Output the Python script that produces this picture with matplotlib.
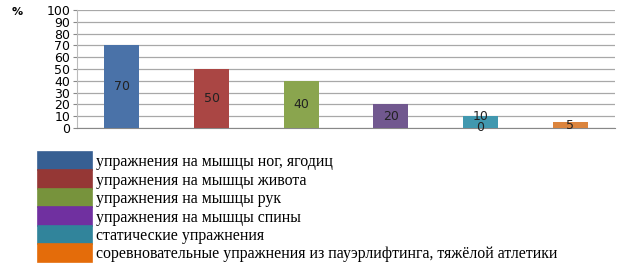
import matplotlib.pyplot as plt
from matplotlib.patches import Patch

categories = ['упражнения на мышцы ног, ягодиц',
              'упражнения на мышцы живота',
              'упражнения на мышцы рук',
              'упражнения на мышцы спины',
              'статические упражнения',
              'соревновательные упражнения из пауэрлифтинга, тяжёлой атлетики']
values = [70, 50, 40, 20, 10, 5]
bar_labels = ['70', '50', '40', '20', '10\n0', '5']
bar_colors = ['#4A72A8', '#AA4644', '#8AA54E', '#71588F', '#4198AF', '#DB843D']
legend_colors = ['#375F92', '#953735', '#77933C', '#7030A0', '#31849B', '#E46C0A']
yticks = list(range(0, 101, 10))

fig = plt.figure(figsize=(6.24, 2.70), dpi=100)
ax = fig.add_axes([0.1234, 0.526, 0.8622, 0.437])

x = list(range(len(values)))
bars = ax.bar(x, values, width=0.39, color=bar_colors, zorder=3)
for b, lab in zip(bars, bar_labels):
    ax.text(b.get_x() + b.get_width() / 2, b.get_height() / 2, lab,
            ha='center', va='center', fontsize=9, color='#222222',
            linespacing=0.8, zorder=4)

ax.set_xlim(-0.5, len(values) - 0.5)
ax.set_ylim(0, 100)
ax.set_yticks(yticks)
ax.set_xticks([])
ax.grid(axis='y', color='#A8A8A8', linewidth=0.9, zorder=0)
for s in ['top', 'right']:
    ax.spines[s].set_visible(False)
ax.spines['left'].set_color('#BBBBBB')
ax.spines['bottom'].set_color('#888888')
ax.tick_params(axis='y', length=3, color='#888888', labelsize=9, pad=2)
fig.text(0.019, 0.955, '%', fontsize=8, fontweight='bold', va='center')

handles = [Patch(facecolor=c, edgecolor=c, linewidth=1.2) for c in legend_colors]
fig.legend(handles, categories, loc='upper left', bbox_to_anchor=(0.061, 0.437),
           frameon=False, prop={'family': 'Liberation Serif', 'size': 11.4},
           handlelength=3.4, handleheight=1.4, labelspacing=0,
           handletextpad=0.25, borderpad=0, borderaxespad=0)

fig.savefig('out.png', dpi=100)
